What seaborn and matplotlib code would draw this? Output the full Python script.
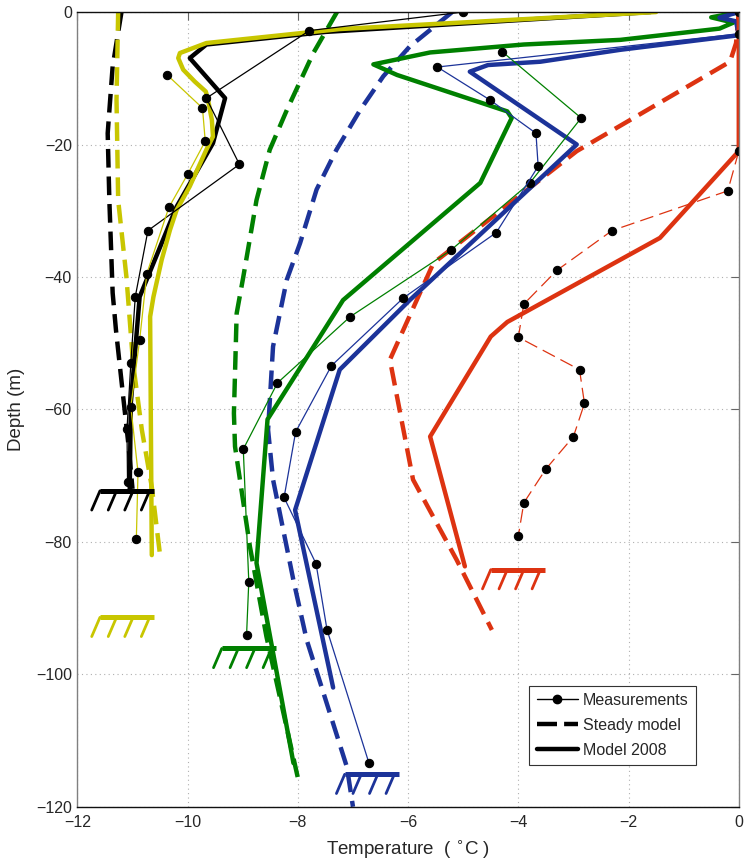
import matplotlib
matplotlib.use('Agg')
import matplotlib.pyplot as plt
from matplotlib.lines import Line2D
import seaborn as sns

# borehole colours
c_black = '#000000'
c_yellow = '#C8C600'
c_green = '#008000'
c_blue = '#1C3399'
c_red = '#DD3311'

# measurements (temperature, depth)
meas_black_T = [0, -5.0, -7.79, -9.66, -9.06, -10.72, -10.95, -11.03, -11.1, -11.09]
meas_black_D = [0, 0, -2.8, -13, -23, -33, -43, -53, -63, -71]
meas_yellow_T = [-10.37, -9.73, -9.68, -10.0, -10.34, -10.74, -10.87, -11.03, -10.9, -10.93]
meas_yellow_D = [-9.5, -14.5, -19.5, -24.5, -29.5, -39.5, -49.5, -59.6, -69.5, -79.5]
meas_green_T = [-4.29, -2.86, -3.79, -5.23, -7.05, -8.37, -8.99, -8.89, -8.93]
meas_green_D = [-6, -16, -25.8, -36, -46, -56, -66, -86, -94]
meas_blue_T = [0, -5.47, -4.51, -3.68, -3.64, -4.40, -6.09, -7.39, -8.04, -8.25, -7.67, -7.47, -6.71]
meas_blue_D = [-3.3, -8.3, -13.3, -18.3, -23.3, -33.3, -43.2, -53.4, -63.4, -73.3, -83.3, -93.3, -113.4]
meas_red_T = [0, -0.2, -2.3, -3.3, -3.9, -4.0, -2.89, -2.8, -3.0, -3.5, -3.9, -4.0]
meas_red_D = [-21, -27, -33, -39, -44.1, -49.1, -54, -59.1, -64.1, -69, -74.1, -79.1]

# steady model
steady_black_T = [-11.2, -11.36, -11.45, -11.42, -11.36, -11.3, -11.17, -11.07, -11.0]
steady_black_D = [0, -8.2, -18.3, -28.4, -42.4, -48, -58, -65.6, -72]
steady_yellow_T = [-11.26, -11.29, -11.26, -11.11, -10.99, -10.83, -10.65, -10.5]
steady_yellow_D = [0, -13.2, -28.4, -40, -53, -63.1, -71.7, -82]
steady_green_T = [-7.29, -7.72, -8.2, -8.51, -8.75, -8.99, -9.11, -9.16, -9.14, -8.87, -8.57, -7.99]
steady_green_D = [0, -6.2, -14.8, -20.8, -28.4, -40, -45.5, -60.6, -65.6, -80.7, -94.3, -116]
steady_blue_T = [-5.2, -5.97, -6.45, -6.87, -7.30, -7.66, -7.96, -8.2, -8.45, -8.54, -8.45, -8.08, -7.84, -7.11, -7.0]
steady_blue_D = [0, -5.2, -9.7, -14.8, -20.8, -26.8, -34.9, -40.4, -50.5, -63.1, -70.6, -85.8, -94.8, -114, -120]
steady_red_T = [0, -0.05, -0.16, -2.94, -5.54, -6.33, -5.91, -5.12, -4.48]
steady_red_D = [0, -4.7, -7.5, -21, -37.9, -52.5, -70.6, -82.7, -93.3]

# model 2008
m08_black_T = [-1.6, -7.5, -9.66, -9.96, -9.32, -9.54, -10.2, -10.87, -11.03, -11.05]
m08_black_D = [0, -3.0, -4.9, -6.95, -13, -19.8, -29.4, -43, -59, -72]
m08_yellow_T = [-1.5, -7.24, -9.66, -10.14, -10.17, -10.08, -9.87, -9.67, -9.63, -9.56, -9.54,
                -9.66, -9.96, -10.2, -10.32, -10.47, -10.62, -10.68, -10.65]
m08_yellow_D = [0, -2.57, -4.68, -6.19, -6.95, -8.7, -10.5, -12, -13.2, -16.3, -18.8,
                -20.8, -26.3, -29.9, -32.9, -37.4, -43, -46, -82]
m08_green_T = [0, -0.5, -0.1, -0.35, -2.15, -3.9, -5.6, -6.63, -6.2, -4.2, -4.12, -4.69,
               -7.18, -8.55, -8.75, -8.08]
m08_green_D = [0, -0.8, -1.6, -2.5, -4.2, -4.9, -6.1, -7.9, -9.5, -15, -16, -25.8,
               -43.5, -61.5, -83.2, -113.4]
m08_blue_T = [0, -0.35, -0.05, 0, -2.15, -3.6, -4.55, -4.88, -2.94, -5.97, -7.24, -8.05, -7.36]
m08_blue_D = [0, -0.85, -1.4, -3.5, -5.7, -7.5, -8.0, -9.0, -20, -43.5, -54, -75.2, -102]
m08_red_T = [0, 0, -1.43, -4.2, -4.5, -5.6, -4.97]
m08_red_D = [0, -21, -34.1, -46.8, -49, -64.1, -83.7]

# borehole bottoms (left temperature, depth)
bed_T = [-11.59, -11.59, -9.38, -7.15, -4.5]
bed_D = [-72.3, -91.4, -96.1, -115.1, -84.2]
bed_colors = [c_black, c_yellow, c_green, c_blue, c_red]

sns.set_style('white')
plt.rcParams['font.family'] = ['Liberation Sans', 'DejaVu Sans']

fig = plt.figure(figsize=(7.44, 8.61), dpi=100)
ax = fig.add_axes([0.104, 0.063, 0.889, 0.923])

thick = 3.2
dash = (0, (4.2, 2.0))

steady = [(steady_black_T, steady_black_D, c_black), (steady_yellow_T, steady_yellow_D, c_yellow),
          (steady_green_T, steady_green_D, c_green), (steady_blue_T, steady_blue_D, c_blue),
          (steady_red_T, steady_red_D, c_red)]
for t, d, c in steady:
    sns.lineplot(x=t, y=d, sort=False, estimator=None, color=c, lw=thick, linestyle=dash, ax=ax)

model = [(m08_black_T, m08_black_D, c_black), (m08_yellow_T, m08_yellow_D, c_yellow),
         (m08_green_T, m08_green_D, c_green), (m08_blue_T, m08_blue_D, c_blue),
         (m08_red_T, m08_red_D, c_red)]
for t, d, c in model:
    sns.lineplot(x=t, y=d, sort=False, estimator=None, color=c, lw=thick, ax=ax)

meas = [(meas_black_T, meas_black_D, c_black, '-'), (meas_yellow_T, meas_yellow_D, c_yellow, '-'),
        (meas_green_T, meas_green_D, c_green, '-'), (meas_blue_T, meas_blue_D, c_blue, '-'),
        (meas_red_T, meas_red_D, c_red, (0, (11, 5)))]
for t, d, c, ls in meas:
    sns.lineplot(x=t, y=d, sort=False, estimator=None, color=c, lw=0.9, linestyle=ls,
                 marker='o', markersize=6, markerfacecolor='k', markeredgecolor='k', ax=ax)

# bed symbols
for t0, d0, c in zip(bed_T, bed_D, bed_colors):
    ax.plot([t0, t0 + 0.98], [d0, d0], color=c, lw=3.6, solid_capstyle='butt', zorder=5)
    for k in range(4):
        tk = t0 + 0.3 * k
        ax.plot([tk, tk - 0.15], [d0, d0 - 2.9], color=c, lw=2.0, zorder=5)

ax.set_xlim(-12, 0)
ax.set_ylim(-120, 0)
ax.set_xticks(range(-12, 1, 2))
ax.set_yticks(range(-120, 1, 20))
ax.grid(True, linestyle=(0, (1, 3)), color='#b0b0b0', lw=0.8)
ax.tick_params(direction='in', length=6, width=0.8, color='#666666', labelsize=11.5,
               top=True, right=True)
ax.tick_params(axis='x', pad=6)
ax.tick_params(axis='y', pad=4)
for s in ['top', 'bottom']:
    ax.spines[s].set_color('#111111')
for s in ['left', 'right']:
    ax.spines[s].set_color('#808080')
for s in ax.spines.values():
    s.set_linewidth(1.0)

ax.set_xlabel('Temperature  ( $^{\\circ}$C )', fontsize=13.5, labelpad=6)
ax.set_ylabel('Depth (m)', fontsize=13.5, labelpad=8)

handles = [Line2D([], [], color='k', lw=1, marker='o', markersize=6),
           Line2D([], [], color='k', lw=thick, linestyle=(0, (4.5, 1.6))),
           Line2D([], [], color='k', lw=thick)]
leg = ax.legend(handles, ['Measurements', 'Steady model', 'Model 2008'], loc='lower right',
                bbox_to_anchor=(0.935, 0.0525), borderaxespad=0, fontsize=11.5,
                fancybox=False, framealpha=1, edgecolor='#333333', handlelength=2.6,
                handletextpad=0.3, labelspacing=0.62, borderpad=0.45)
leg.get_frame().set_linewidth(0.8)

fig.savefig('out.png', dpi=100)
